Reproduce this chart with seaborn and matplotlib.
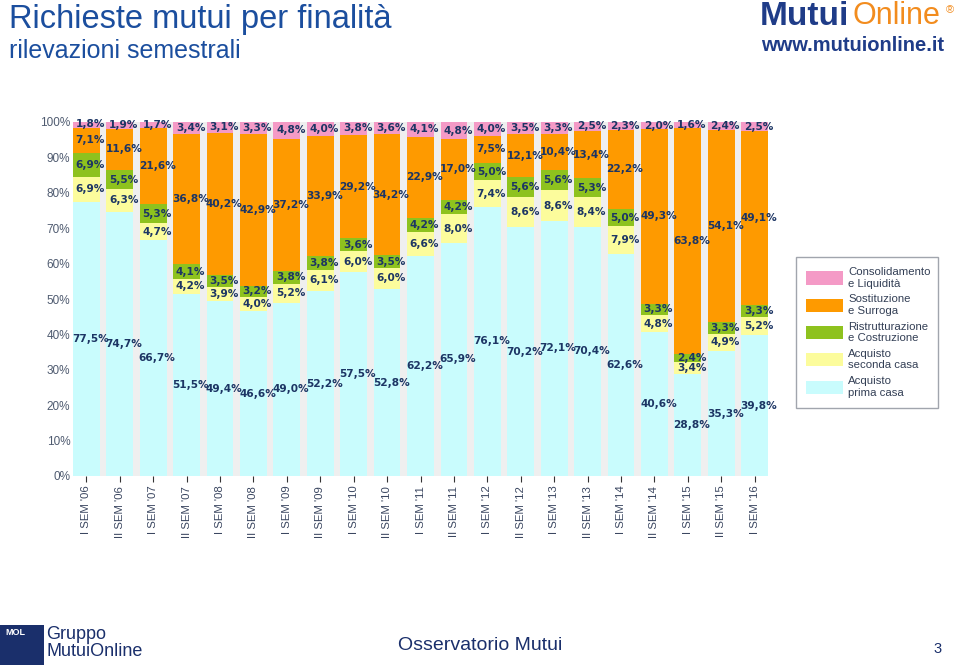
"""Richieste mutui per finalità - rilevazioni semestrali (stacked bars)."""

import matplotlib

matplotlib.use("Agg")
import matplotlib.pyplot as plt
import matplotlib.patches as mpatches
import numpy as np
import seaborn as sns

PERIODS = [
    "I SEM '06", "II SEM '06", "I SEM '07", "II SEM '07", "I SEM '08",
    "II SEM '08", "I SEM '09", "II SEM '09", "I SEM '10", "II SEM '10",
    "I SEM '11", "II SEM '11", "I SEM '12", "II SEM '12", "I SEM '13",
    "II SEM '13", "I SEM '14", "II SEM '14", "I SEM '15", "II SEM '15",
    "I SEM '16",
]

PRIMA_CASA = [77.5, 74.7, 66.7, 51.5, 49.4, 46.6, 49.0, 52.2, 57.5, 52.8, 62.2,
              65.9, 76.1, 70.2, 72.1, 70.4, 62.6, 40.6, 28.8, 35.3, 39.8]
SECONDA_CASA = [6.9, 6.3, 4.7, 4.2, 3.9, 4.0, 5.2, 6.1, 6.0, 6.0, 6.6,
                8.0, 7.4, 8.6, 8.6, 8.4, 7.9, 4.8, 3.4, 4.9, 5.2]
RISTRUTTURAZIONE = [6.9, 5.5, 5.3, 4.1, 3.5, 3.2, 3.8, 3.8, 3.6, 3.5, 4.2,
                    4.2, 5.0, 5.6, 5.6, 5.3, 5.0, 3.3, 2.4, 3.3, 3.3]
SOSTITUZIONE = [7.1, 11.6, 21.6, 36.8, 40.2, 42.9, 37.2, 33.9, 29.2, 34.2, 22.9,
                17.0, 7.5, 12.1, 10.4, 13.4, 22.2, 49.3, 63.8, 54.1, 49.1]
CONSOLIDAMENTO = [1.8, 1.9, 1.7, 3.4, 3.1, 3.3, 4.8, 4.0, 3.8, 3.6, 4.1,
                  4.8, 4.0, 3.5, 3.3, 2.5, 2.3, 2.0, 1.6, 2.4, 2.5]

# bottom -> top
LAYERS = [
    ("Acquisto\nprima casa", PRIMA_CASA, "#C9FCFD"),
    ("Acquisto\nseconda casa", SECONDA_CASA, "#FCFC9C"),
    ("Ristrutturazione\ne Costruzione", RISTRUTTURAZIONE, "#8EC21E"),
    ("Sostituzione\ne Surroga", SOSTITUZIONE, "#FE9A00"),
    ("Consolidamento\ne Liquidità", CONSOLIDAMENTO, "#F49AC6"),
]

NAVY = "#1A2F6B"
TITLE_BLUE = "#1B4E9E"


def px(x, y):
    return x / 960, 1 - y / 667


sns.set_theme(style="white")
plt.rcParams["font.family"] = ["Liberation Sans", "DejaVu Sans"]

fig = plt.figure(figsize=(9.6, 6.67), dpi=100)
fig.patch.set_facecolor("white")
x0, y0 = px(73, 476)
x1, y1 = px(768, 122)
ax = fig.add_axes([x0, y0, x1 - x0, y1 - y0])
ax.set_facecolor("#EFEFEF")

# stacked bars: draw cumulative totals from the top layer down
values = np.array([layer[1] for layer in LAYERS])
cum = np.cumsum(values, axis=0)
for i in range(len(LAYERS) - 1, -1, -1):
    sns.barplot(x=PERIODS, y=cum[i], color=LAYERS[i][2], saturation=1,
                width=0.8, ax=ax, edgecolor="none", linewidth=0)

# segment labels
for i, (_, vals, _) in enumerate(LAYERS):
    below = cum[i] - values[i]
    for j, v in enumerate(vals):
        ax.text(j + 0.12, below[j] + v / 2, f"{v:.1f}%".replace(".", ","),
                ha="center", va="center", fontsize=7.6, fontweight="bold",
                family="DejaVu Sans", color="#1C3564", clip_on=False, zorder=5)

ax.set_xlim(-0.4, len(PERIODS) - 0.6)
ax.set_ylim(0, 100)
ax.set_yticks(range(0, 101, 10))
ax.set_yticklabels([f"{t}%" for t in range(0, 101, 10)])
ax.tick_params(axis="y", length=0, pad=2, labelsize=8.5, labelcolor="#4F5B70")
ax.tick_params(axis="x", length=4, width=0.8, color="#333333", direction="out",
               pad=3, labelsize=8.2, labelcolor="#3A4660", rotation=90,
               bottom=True)
for s in ax.spines.values():
    s.set_visible(False)
ax.set_xlabel("")
ax.set_ylabel("")

# legend (top layer first)
handles = [mpatches.Patch(facecolor=c, edgecolor="none", label=lab)
           for lab, _, c in reversed(LAYERS)]
lx, ly = px(796, 408)
lx2, ly2 = px(938, 252)
leg = fig.legend(handles=handles, loc="lower left",
                 bbox_to_anchor=(lx, ly, lx2 - lx, ly2 - ly), mode="expand",
                 borderaxespad=0, frameon=True, fancybox=False, fontsize=8.2,
                 handlelength=3.2, handleheight=1.4, labelspacing=0.5,
                 borderpad=0.9, handletextpad=0.5, labelcolor="#333F55")
leg.get_frame().set_edgecolor("#8A8F99")
leg.get_frame().set_linewidth(1.0)

# header
fig.text(*px(9, 4), "Richieste mutui per finalità", fontsize=23.5,
         color=TITLE_BLUE, ha="left", va="top")
fig.text(*px(9, 39), "rilevazioni semestrali", fontsize=18,
         color=TITLE_BLUE, ha="left", va="top")
fig.text(*px(760, 1), "Mutui", fontsize=24, fontweight="bold", color="#1F3C88",
         ha="left", va="top")
fig.text(*px(853, 1), "Online", fontsize=22, color="#F28C1E",
         ha="left", va="top")
fig.text(*px(946, 5), "®", fontsize=8, color="#F28C1E", ha="left", va="top")
fig.text(*px(761, 36), "www.mutuionline.it", fontsize=14.5, fontweight="bold",
         color="#1F3C88", ha="left", va="top")

# footer
fig.patches.append(mpatches.Rectangle(px(0, 665), 44 / 960, 40 / 667,
                                      transform=fig.transFigure,
                                      facecolor=NAVY, edgecolor="none"))
fig.text(*px(5, 628), "MOL", fontsize=6.5, fontweight="bold", color="white",
         ha="left", va="top")
fig.text(*px(46, 626), "Gruppo\nMutuiOnline", fontsize=13, color=NAVY,
         ha="left", va="top", linespacing=0.98)
fig.text(*px(480, 646), "Osservatorio Mutui", fontsize=14, color=NAVY,
         ha="center", va="center")
fig.text(*px(938, 649), "3", fontsize=10.5, color=NAVY,
         ha="center", va="center")

fig.savefig("out.png", dpi=100, facecolor="white")
